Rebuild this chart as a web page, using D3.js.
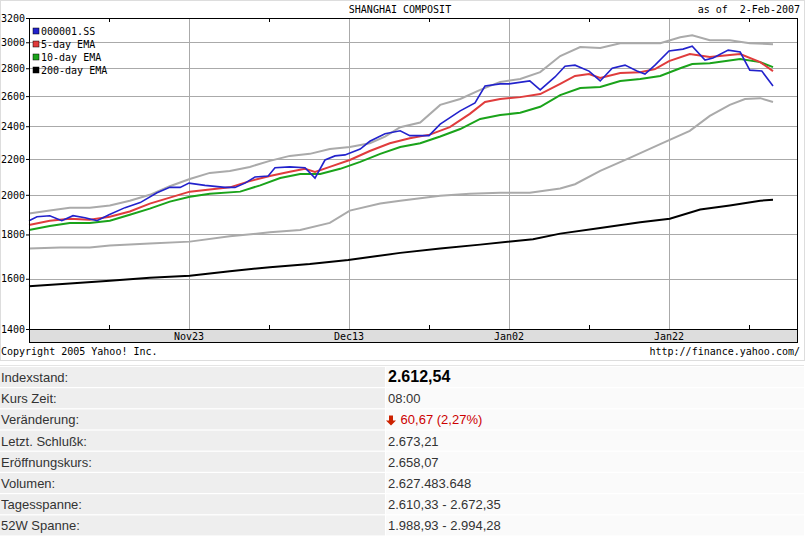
<!DOCTYPE html>
<html><head><meta charset="utf-8">
<script src="https://cdn.jsdelivr.net/npm/d3@7"></script>
<style>body{margin:0;background:#fff;}svg{display:block;}</style>
</head><body>
<script>
const startDate = new Date(2006, 10, 3);
const yTicks = [1400,1600,1800,2000,2200,2400,2600,2800,3000,3200];
const xLabelDates = ["2006-11-23","2006-12-13","2007-01-02","2007-01-22"];
const xLabels = ["Nov23","Dec13","Jan02","Jan22"];

const closeDays = [0,1,2.6,4.1,5.5,7,8.5,10,12,13.9,16,17.6,18.9,20,22,24.5,25.75,27,28.25,29.9,30.75,32.6,34.5,35.75,37,38.25,39.5,41.4,42.6,44.5,46.4,47.6,50,51.4,53.9,55.75,57,58.9,60,62.6,63.9,65.75,67,68.25,70,71.4,72.9,74.5,76,77,78.25,80,81.75,82.9,84.5,85.5,87.4,88.9,90.1,91.6,93];
const closeVals = [1867,1887,1892,1867,1892,1882,1867,1897,1933,1959,2011,2040,2040,2063,2051,2040,2040,2063,2097,2103,2149,2154,2149,2091,2194,2218,2224,2259,2306,2353,2371,2341,2341,2413,2500,2553,2671,2686,2686,2707,2643,2736,2815,2823,2779,2707,2800,2823,2779,2757,2823,2931,2946,2969,2862,2877,2938,2923,2786,2779,2671];

const ema5Days = [0,2.6,5.1,7.6,10.1,12.6,15.1,17.6,20.1,22.6,25.1,27.6,30.1,32.6,34.5,35.75,37.6,40.1,42.6,45.1,47.6,50.1,52.6,55.1,57,58.9,61.4,63.9,66.4,68.25,70,71.4,73.9,76.4,78.25,80,82.6,85.1,87.6,88.9,91.4,93];
const ema5Vals = [1846,1867,1877,1872,1887,1913,1954,1985,2017,2029,2040,2074,2103,2126,2143,2126,2154,2194,2247,2294,2324,2347,2394,2480,2560,2580,2593,2614,2686,2743,2757,2729,2764,2771,2793,2854,2908,2885,2900,2908,2846,2779];

const ema10Days = [0,2.6,5.1,7.6,10.1,12.6,15.1,17.6,20.1,22.6,26.4,28.9,31.4,33.9,36.4,38.9,41.4,43.9,46.4,48.9,51.4,53.9,56.4,58.9,61.4,63.9,66.4,68.9,71.4,73.9,76.4,78.9,81.4,82.9,85.1,88.9,91.4,93];
const ema10Vals = [1821,1841,1856,1856,1867,1897,1928,1964,1990,2006,2017,2051,2091,2114,2114,2143,2183,2230,2271,2294,2335,2382,2447,2473,2487,2527,2607,2657,2664,2707,2721,2743,2800,2831,2838,2869,2846,2808];

const upperDays = [0,2.6,5.1,7.6,10.1,12.6,15.1,17.6,20.1,22.6,25.1,27.6,30.1,32.6,35.1,37.6,40.1,42.6,44.5,46.4,48.9,51.4,53.9,56.4,58.9,61.4,63.9,66.4,68.9,71.4,73.9,76.4,78.9,81.4,82.9,85.1,87.6,90.1,93];
const upperVals = [1903,1918,1933,1933,1944,1969,2000,2046,2086,2120,2131,2154,2189,2218,2230,2259,2271,2294,2335,2394,2424,2540,2580,2643,2700,2721,2771,2892,2962,2954,2992,2992,2992,3040,3056,3016,3016,2992,2985];

const lowerDays = [0,3.9,7.6,10.1,15.1,20.1,25.1,30.1,33.9,37.6,40.1,43.9,46.4,51.4,55.1,58.9,62.6,66.4,68.25,71.4,75.1,78.9,82.6,85.1,87.6,89.5,91.4,93];
const lowerVals = [1734,1739,1739,1748,1757,1766,1791,1810,1821,1856,1918,1954,1969,1995,2006,2011,2011,2034,2057,2131,2206,2288,2371,2467,2540,2580,2586,2560];

const ema200Days = [0,5.1,10.1,15.1,20.1,25.1,30.1,35.1,39.9,46.4,51.4,56.4,63,66.4,71.4,76.4,80.1,83.9,87.6,91.4,93];
const ema200Vals = [1568,1580,1592,1604,1613,1632,1650,1664,1682,1714,1734,1752,1777,1804,1831,1859,1877,1923,1944,1969,1974];

const legendNames = ["000001.SS","5-day EMA","10-day EMA","200-day EMA"];
const legendColors = ["#2222cc","#e03c3c","#1aa31a","#000000"];

const tableLabels = ["Indexstand:","Kurs Zeit:","Veränderung:","Letzt. Schlußk:","Eröffnungskurs:","Volumen:","Tagesspanne:","52W Spanne:"];
const tableValues = ["2.612,54","08:00","60,67 (2,27%)","2.673,21","2.658,07","2.627.483.648","2.610,33 - 2.672,35","1.988,93 - 2.994,28"];

const W=810,H=538;
const svg=d3.select("body").append("svg").attr("width",W).attr("height",H);
const mono="'DejaVu Sans Mono', monospace";
const L=29,R=797,T=18,B=329;
const toDate=d=>new Date(startDate.getTime()+d*86400000);
const x=d3.scaleTime().domain([startDate,toDate(96)]).range([L,R]);
const y=d3.scaleLog().domain([1400,3200]).range([B,T]);

// outer box
svg.append("rect").attr("x",0.5).attr("y",0.5).attr("width",804).attr("height",360).attr("fill","none").attr("stroke","#ddd");
svg.append("text").attr("x",400).attr("y",13).attr("text-anchor","middle").attr("font-family",mono).attr("font-size",10).text("SHANGHAI COMPOSIT");
svg.append("text").attr("x",800).attr("y",13).attr("text-anchor","end").attr("font-family",mono).attr("font-size",10).attr("xml:space","preserve").text("as of  2-Feb-2007");

// grid
svg.append("g").selectAll("line").data(yTicks).join("line")
 .attr("x1",L).attr("x2",R).attr("y1",d=>Math.round(y(d))+0.5).attr("y2",d=>Math.round(y(d))+0.5).attr("stroke","#aaa");
const xl=xLabelDates.map(s=>new Date(s+"T00:00"));
svg.append("g").selectAll("line").data(xl).join("line")
 .attr("y1",T).attr("y2",B).attr("x1",d=>Math.round(x(d))+0.5).attr("x2",d=>Math.round(x(d))+0.5).attr("stroke","#aaa");
// minor ticks (10 days between labels)
const minor=xl.map(d=>d3.timeDay.offset(d,-10)).concat([d3.timeDay.offset(xl[3],10)]);
minor.forEach(d=>{const px=Math.round(x(d))+0.5;
 svg.append("line").attr("x1",px).attr("x2",px).attr("y1",T).attr("y2",T+4).attr("stroke","#000");
 svg.append("line").attr("x1",px).attr("x2",px).attr("y1",B-4).attr("y2",B).attr("stroke","#000");});

// y labels
const yAxis=d3.axisLeft(y).tickValues(yTicks).tickFormat(d3.format("d")).tickSize(3).tickPadding(1);
const ga=svg.append("g").attr("transform",`translate(${L},0)`).call(yAxis);
ga.select(".domain").remove();
ga.selectAll("text").attr("font-family",mono).attr("font-size",10).attr("fill","#000");

// x band
svg.append("rect").attr("x",L+0.5).attr("y",B+0.5).attr("width",R-L).attr("height",13).attr("fill","#ddd").attr("stroke","#000");
svg.append("g").selectAll("text").data(xl).join("text").attr("x",d=>x(d)).attr("y",B+11).attr("text-anchor","middle")
 .attr("font-family",mono).attr("font-size",10).text((d,i)=>xLabels[i]);

// lines
const line=d3.line().x(d=>x(toDate(d[0]))).y(d=>y(d[1]));
const zip=(a,b)=>a.map((d,i)=>[d,b[i]]);
[[upperDays,upperVals,"#aaa",2],[lowerDays,lowerVals,"#aaa",2],[ema200Days,ema200Vals,"#000",2],
 [ema10Days,ema10Vals,"#1aa31a",2],[ema5Days,ema5Vals,"#e03c3c",2],[closeDays,closeVals,"#2222cc",1.6]]
 .forEach(([a,b,c,w])=>svg.append("path").attr("d",line(zip(a,b))).attr("fill","none").attr("stroke",c).attr("stroke-width",w));

// frame
svg.append("rect").attr("x",L+0.5).attr("y",T+0.5).attr("width",R-L).attr("height",B-T).attr("fill","none").attr("stroke","#000");

// legend
legendNames.forEach((n,i)=>{
 svg.append("rect").attr("x",33).attr("y",28+i*13).attr("width",6).attr("height",6).attr("fill",legendColors[i]).attr("stroke","#000").attr("stroke-width",0.5);
 svg.append("text").attr("x",41).attr("y",35+i*13).attr("font-family",mono).attr("font-size",10).text(n);
});

svg.append("text").attr("x",1).attr("y",355).attr("font-family",mono).attr("font-size",10).text("Copyright 2005 Yahoo! Inc.");
svg.append("text").attr("x",800).attr("y",355).attr("text-anchor","end").attr("font-family",mono).attr("font-size",10).text("http://finance.yahoo.com/");

// table
const narrow="'Liberation Sans Narrow','Arial Narrow','Liberation Sans',sans-serif";
const rowY=i=>367+i*21.2;
tableLabels.forEach((lab,i)=>{
 const ry=rowY(i);
 svg.append("rect").attr("x",0).attr("y",ry).attr("width",385).attr("height",20).attr("fill","#eeeeee");
 svg.append("rect").attr("x",386).attr("y",ry).attr("width",418).attr("height",20).attr("fill","#fafafa");
 svg.append("text").attr("x",1).attr("y",ry+15).attr("font-family",narrow).attr("font-size",13).attr("fill","#333").text(lab);
 const t=svg.append("text").attr("x",388).attr("y",ry+15).attr("font-family",narrow).attr("font-size",i===0?16:13)
  .attr("font-weight",i===0?"bold":"normal").attr("fill",i===2?"#cc0000":(i===0?"#000":"#333"));
 if(i===2){t.text("\u2009"+tableValues[i]).attr("x",398);
  svg.append("path").attr("d",`M389,${ry+6}h4v5h3l-5,5l-5,-5h3z`).attr("fill","#cc2200");}
 else t.text(tableValues[i]);
});
svg.append("line").attr("x1",0).attr("x2",804).attr("y1",365.5).attr("y2",365.5).attr("stroke","#e5e5e5");
</script>
</body></html>
